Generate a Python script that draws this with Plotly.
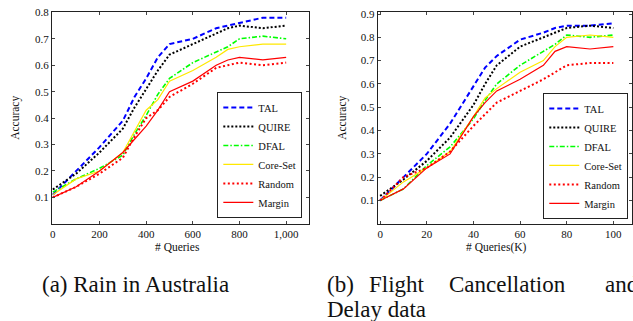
import plotly.graph_objects as go

# ---------------- data ----------------
series_names = ["TAL", "QUIRE", "DFAL", "Core-Set", "Random", "Margin"]

# (a) Rain in Australia
queries_a = [0, 100, 200, 300, 350, 400, 450, 500, 600, 700, 750, 800, 900, 1000]
tal_a    = [0.11, 0.20, 0.29, 0.39, 0.48, 0.55, 0.63, 0.68, 0.70, 0.74, 0.75, 0.76, 0.78, 0.78]
quire_a  = [0.13, 0.19, 0.27, 0.36, 0.44, 0.51, 0.58, 0.64, 0.68, 0.72, 0.74, 0.75, 0.74, 0.75]
dfal_a   = [0.12, 0.17, 0.21, 0.26, 0.34, 0.41, 0.49, 0.55, 0.61, 0.65, 0.67, 0.70, 0.71, 0.70]
core_a   = [0.11, 0.17, 0.20, 0.27, 0.35, 0.43, 0.47, 0.54, 0.58, 0.63, 0.66, 0.67, 0.68, 0.68]
random_a = [0.10, 0.14, 0.19, 0.25, 0.33, 0.40, 0.43, 0.48, 0.53, 0.59, 0.60, 0.61, 0.60, 0.61]
margin_a = [0.10, 0.14, 0.20, 0.27, 0.32, 0.37, 0.43, 0.50, 0.54, 0.60, 0.62, 0.63, 0.62, 0.63]

# (b) Flight Cancellation and Delay data
queries_b = [0, 10, 20, 30, 40, 45, 50, 60, 70, 75, 80, 90, 100]
tal_b    = [0.10, 0.20, 0.30, 0.43, 0.59, 0.67, 0.72, 0.79, 0.82, 0.84, 0.85, 0.85, 0.86]
quire_b  = [0.12, 0.19, 0.27, 0.37, 0.51, 0.60, 0.68, 0.76, 0.80, 0.82, 0.84, 0.85, 0.84]
dfal_b   = [0.10, 0.15, 0.25, 0.33, 0.45, 0.53, 0.60, 0.68, 0.74, 0.77, 0.81, 0.80, 0.81]
core_b   = [0.10, 0.18, 0.24, 0.31, 0.46, 0.54, 0.58, 0.65, 0.70, 0.76, 0.80, 0.81, 0.80]
random_b = [0.10, 0.20, 0.24, 0.31, 0.42, 0.47, 0.52, 0.57, 0.62, 0.65, 0.68, 0.69, 0.69]
margin_b = [0.10, 0.15, 0.24, 0.30, 0.46, 0.52, 0.57, 0.62, 0.68, 0.74, 0.76, 0.75, 0.76]

xticks_a = [0, 200, 400, 600, 800, 1000]
xticktext_a = ["0", "200", "400", "600", "800", "1,000"]
xticks_b = [0, 20, 40, 60, 80, 100]
yticks_a = [0.1, 0.2, 0.3, 0.4, 0.5, 0.6, 0.7, 0.8]
yticks_b = [0.1, 0.2, 0.3, 0.4, 0.5, 0.6, 0.7, 0.8, 0.9]

# ---------------- styles ----------------
styles = {
    "TAL":      dict(color="#0000FF", width=2.0, dash="5px,3px"),
    "QUIRE":    dict(color="#000000", width=2.0, dash="2px,2px"),
    "DFAL":     dict(color="#00FF00", width=1.6, dash="5px,2px,1.5px,2px"),
    "Core-Set": dict(color="#FFE800", width=1.2, dash="solid"),
    "Random":   dict(color="#FF0000", width=2.0, dash="2px,2.5px"),
    "Margin":   dict(color="#FF0000", width=1.2, dash="solid"),
}

W, H = 633, 321
FONT = "Liberation Serif, Times New Roman, DejaVu Serif, serif"

def px_x(p):
    return p / W

def px_y(p):
    return 1 - p / H

fig = go.Figure()

data_a = [tal_a, quire_a, dfal_a, core_a, random_a, margin_a]
data_b = [tal_b, quire_b, dfal_b, core_b, random_b, margin_b]

for name, ys in zip(series_names, data_a):
    fig.add_trace(go.Scatter(x=queries_a, y=ys, mode="lines", name=name,
                             line=styles[name], xaxis="x", yaxis="y",
                             legend="legend"))
for name, ys in zip(series_names, data_b):
    fig.add_trace(go.Scatter(x=queries_b, y=ys, mode="lines", name=name,
                             line=styles[name], xaxis="x2", yaxis="y2",
                             legend="legend2"))

axis_common = dict(showline=True, linecolor="#222222", linewidth=1, mirror="ticks",
                   ticks="inside", ticklen=3, tickcolor="#444444", tickwidth=0.8,
                   showgrid=False, zeroline=False,
                   tickfont=dict(family=FONT, size=11, color="#111111"))

y_dom = [px_y(222), px_y(6.5)]

legend_common = dict(xanchor="left", yanchor="bottom",
                     bgcolor="white", bordercolor="#222222", borderwidth=1,
                     font=dict(family=FONT, size=10.5, color="#111111"),
                     tracegroupgap=0, itemwidth=30)

fig.update_layout(
    width=W, height=H, autosize=False,
    margin=dict(l=0, r=0, t=0, b=0),
    paper_bgcolor="white", plot_bgcolor="white",
    font=dict(family=FONT, color="#111111"),
    xaxis=dict(domain=[px_x(50), px_x(308)], range=[-4.3, 1098], anchor="y",
               tickvals=xticks_a, ticktext=xticktext_a, **axis_common),
    yaxis=dict(domain=y_dom, range=[0, 0.8], anchor="x",
               tickvals=yticks_a, ticktext=[f"{v:.1f}" for v in yticks_a], **axis_common),
    xaxis2=dict(domain=[px_x(377), px_x(632)], range=[-1.0, 108], anchor="y2",
                tickvals=xticks_b, **axis_common),
    yaxis2=dict(domain=y_dom, range=[0, 0.907], anchor="x2",
                tickvals=yticks_b, ticktext=[f"{v:.1f}" for v in yticks_b], **axis_common),
    legend=dict(x=px_x(216), y=px_y(216), **legend_common),
    legend2=dict(x=px_x(543), y=px_y(217), **legend_common),
    showlegend=True,
)

ann = []
def add_text(text, x, y, size, xanchor="center", yanchor="middle", angle=0):
    ann.append(dict(text=text, x=px_x(x), y=px_y(y), xref="paper", yref="paper",
                    xanchor=xanchor, yanchor=yanchor, showarrow=False, textangle=angle,
                    font=dict(family=FONT, size=size, color="#111111")))

# axis titles
add_text("Accuracy", 14, 114, 11.5, angle=-90)
add_text("# Queries", 176, 246, 11.5)
add_text("Accuracy", 342, 114, 11.5, angle=-90)
add_text("# Queries(K)", 496, 246, 11.5)

# captions
add_text("(a) Rain in Australia", 38, 284, 23, xanchor="left")
add_text("(b)", 324, 284, 23, xanchor="left")
add_text("Flight", 366, 284, 23, xanchor="left")
add_text("Cancellation", 446, 284, 23, xanchor="left")
add_text("and", 603, 284, 23, xanchor="left")
add_text("Delay data", 324, 309, 23, xanchor="left")

fig.update_layout(annotations=ann)

fig.write_html("out.html", config={"displayModeBar": False},
               post_script="document.body.style.margin='0px';document.body.style.overflow='hidden';")
